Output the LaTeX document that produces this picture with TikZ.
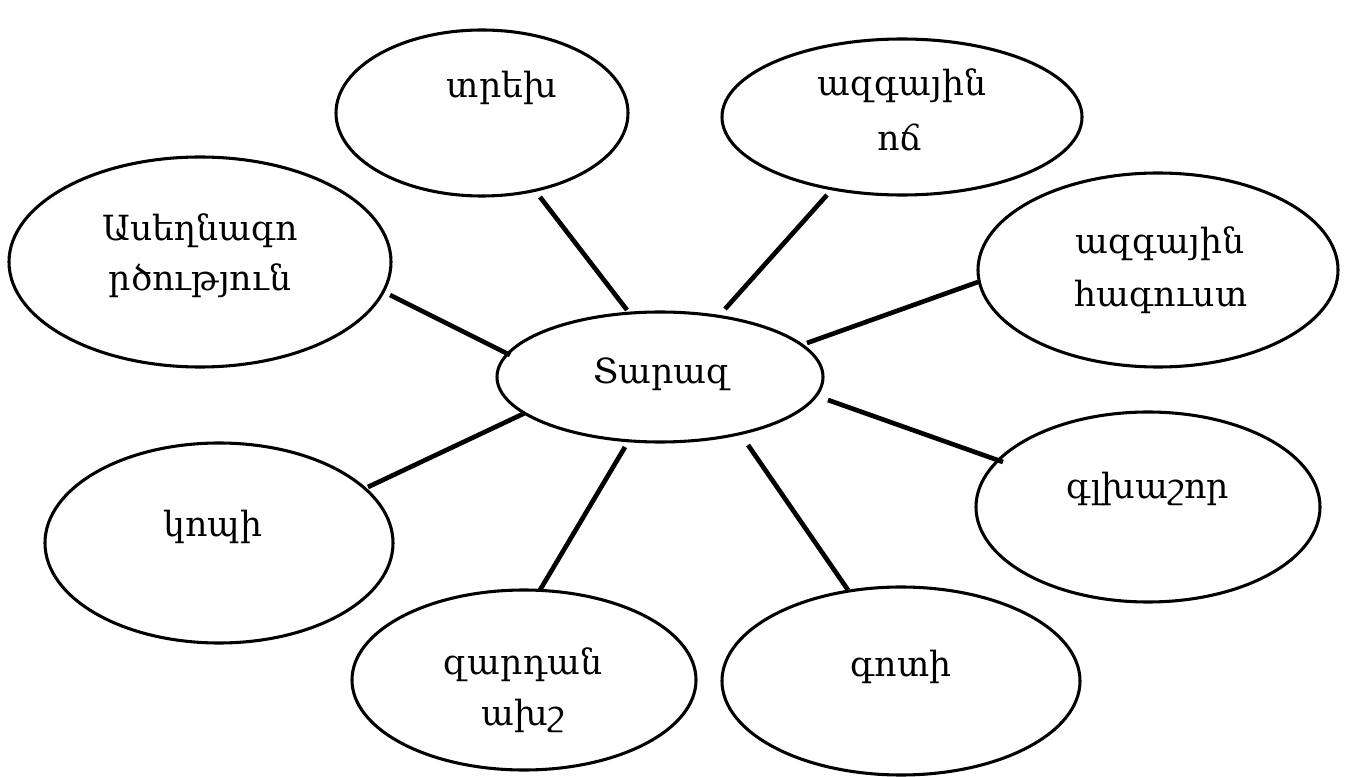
\documentclass[tikz,border=0pt]{standalone}
\usepackage{fontspec}
\setmainfont{DejaVu Serif}
\usetikzlibrary{shapes.geometric,calc}
\tikzset{
  ell/.style 2 args={draw=black, line width=2.3pt, ellipse, inner sep=0pt,
    minimum width=#1*1.5pt, minimum height=#2*1.5pt},
  lbl/.style={anchor=base, inner sep=0pt, font=\fontsize{26}{30}\selectfont},
  conn/.style={draw=black, line width=3.5pt},
}
\begin{document}
\begin{tikzpicture}[x=0.75pt, y=-0.75pt]
\useasboundingbox (0,0) rectangle (1346,777);
% ellipses
\node[ell={163}{65}] (C) at (660,377) {};
\node[ell={146}{83}] (T) at (482,113) {};
\node[ell={180}{78}] (N) at (902,117) {};
\node[ell={191}{105}] (A) at (200,262) {};
\node[ell={180}{97}] (H) at (1158,270) {};
\node[ell={172}{95}] (G) at (1148,507) {};
\node[ell={174}{100}] (K) at (219,543) {};
\node[ell={172}{90}] (Z) at (524,680) {};
\node[ell={179}{94}] (O) at (901,681) {};
% labels
\node[lbl] (Ct) at (662,383) {Տարազ};
\node[lbl] (Tt) at (502,98) {տրեխ};
\node[lbl] (Nt1) at (902,96) {ազգային};
\node[lbl] (Nt2) at (900,151) {ոճ};
\node[lbl] (At1) at (200,241) {Ասեղնագո};
\node[lbl] (At2) at (200,291) {րծություն};
\node[lbl] (Ht1) at (1160,254) {ազգային};
\node[lbl] (Ht2) at (1161,306) {հագուստ};
\node[lbl] (Gt) at (1148,498) {գլխաշոր};
\node[lbl] (Kt) at (213,536) {կոպի};
\node[lbl] (Zt1) at (523,674) {զարդան};
\node[lbl] (Zt2) at (523,725) {ախշ};
\node[lbl] (Ot) at (901,676) {գոտի};
% connectors
\draw[conn] ($(T.center)+(58,84)$) -- ($(C.center)+(-33,-67)$);
\draw[conn] ($(N.center)+(-75,78)$) -- ($(C.center)+(65,-68)$);
\draw[conn] ($(A.center)+(190,33)$) -- ($(C.center)+(-150,-22)$);
\draw[conn] ($(H.center)+(-180,12)$) -- ($(C.center)+(147,-34)$);
\draw[conn] ($(G.center)+(-145,-45)$) -- ($(C.center)+(168,23)$);
\draw[conn] ($(O.center)+(-53,-91)$) -- ($(C.center)+(88,68)$);
\draw[conn] ($(Z.center)+(16,-90)$) -- ($(C.center)+(-35,70)$);
\draw[conn] ($(K.center)+(149,-56)$) -- ($(C.center)+(-135,36)$);
\end{tikzpicture}
\end{document}
